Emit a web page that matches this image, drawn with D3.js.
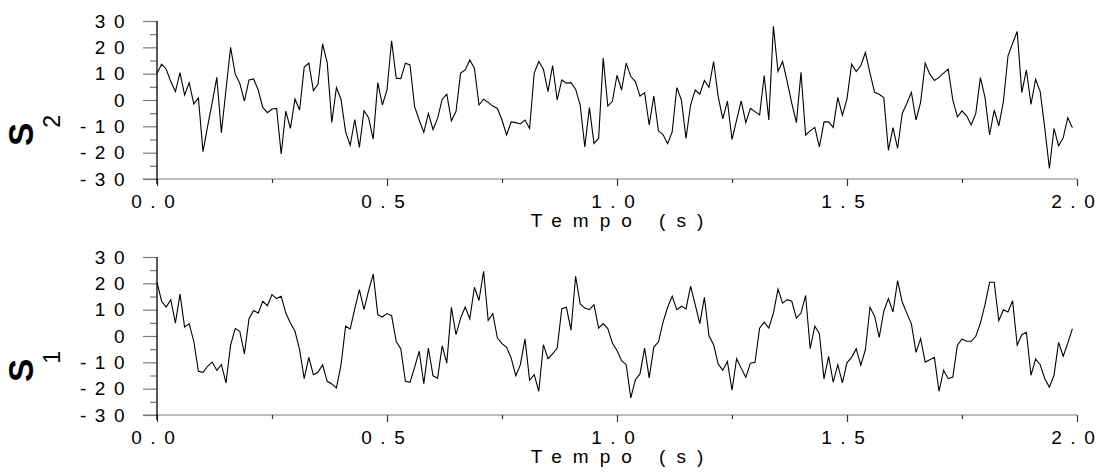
<!DOCTYPE html>
<html><head><meta charset="utf-8">
<script src="https://cdn.jsdelivr.net/npm/d3@7"></script>
<style>
body{margin:0;background:#fff}
svg{display:block}
text{font-family:"Liberation Sans",Arial,Helvetica,sans-serif;fill:#000}
</style>
</head><body>
<svg id="chart" width="1099" height="475"></svg>
<script>
// ---- data ----
const s2Values = [
 10.1,13.6,11.7,7.0,3.2,10.4,1.9,6.6,-1.5,0.8,
 -19.6,-10.0,-1.0,8.6,-12.4,4.0,20.0,9.9,6.3,-0.4,
 7.6,8.0,3.8,-2.8,-4.8,-3.4,-3.2,-20.5,-4.2,-10.8,
 0.4,-3.8,12.5,14.0,3.6,6.0,21.3,14.2,-8.5,4.7,
 0.3,-12.1,-17.2,-7.4,-18.0,-4.1,-6.7,-14.9,6.6,-1.9,
 3.8,22.5,8.3,8.1,14.0,13.3,-2.5,-7.6,-12.3,-5.1,
 -11.2,-7.0,0.3,2.2,-7.9,-4.4,10.2,11.4,15.2,12.1,
 -1.9,0.3,-0.9,-2.3,-3.2,-7.6,-13.3,-8.3,-8.6,-9.1,
 -7.6,-10.8,10.2,14.6,11.7,3.2,13.1,0.0,7.6,6.4,
 6.6,4.1,-1.9,-17.8,-2.9,-16.5,-14.6,15.9,-2.3,-0.5,
 9.4,3.8,14.0,8.9,7.0,1.5,2.8,-9.5,1.5,-11.7,
 -13.1,-16.6,-12.1,4.7,0.0,-14.6,-1.9,3.8,2.2,7.4,
 4.8,14.6,1.3,-7.2,-0.4,-15.0,-7.6,-0.3,-8.6,-3.2,
 -4.4,-5.7,9.3,-7.6,28.0,10.8,14.6,7.0,-1.3,-8.6,
 10.5,-13.3,-11.7,-10.4,-17.8,-8.3,-8.3,-10.4,1.0,-5.8,
 0.4,13.6,10.8,13.0,18.0,10.2,2.9,2.2,0.9,-19.1,
 -10.5,-18.4,-5.1,-1.3,2.9,-7.6,-0.9,14.0,9.8,7.4,
 8.6,10.2,11.7,0.0,-6.4,-4.1,-6.0,-9.5,-5.1,8.5,
 1.0,-13.3,-3.8,-9.8,-0.6,16.8,21.5,26.0,2.8,11.4,
 -1.7,7.9,3.2,-10.8,-26.0,-10.8,-17.4,-14.4,-6.7,-10.5
];
const s1Values = [
 20.5,13.2,11.0,13.8,4.9,15.9,3.4,4.6,-2.0,-13.4,
 -13.8,-11.5,-9.9,-13.0,-10.9,-17.8,-3.5,2.8,1.8,-6.8,
 6.6,9.7,8.7,13.2,11.5,15.7,14.2,15.1,8.7,4.9,
 1.8,-5.2,-16.2,-8.1,-14.7,-13.8,-10.9,-17.2,-18.2,-19.7,
 -11.1,3.7,2.7,10.4,17.6,10.0,17.2,23.5,8.1,7.2,
 8.5,7.7,-2.0,-4.9,-17.2,-17.6,-11.9,-5.8,-18.1,-4.6,
 -15.1,-16.0,-3.7,-10.3,10.9,0.5,6.8,11.0,6.5,18.5,
 13.5,24.6,5.9,8.5,-0.8,-2.9,-4.3,-8.4,-15.1,-10.9,
 -1.1,-16.8,-14.7,-21.0,-3.3,-8.6,-6.8,-4.6,10.4,10.9,
 2.2,22.7,12.2,10.6,10.0,11.9,3.0,4.7,2.8,-2.7,
 -5.5,-9.4,-10.9,-23.5,-16.6,-14.4,-4.6,-15.9,-4.2,-2.3,
 5.2,10.9,15.1,10.0,11.3,10.3,18.9,11.9,4.7,14.7,
 0.1,-3.3,-10.6,-13.0,-9.7,-20.6,-8.6,-12.2,-15.7,-10.3,
 -10.0,3.0,5.3,3.0,8.7,17.8,12.5,13.8,13.2,6.8,
 8.7,15.4,-4.8,3.7,0.9,-16.3,-7.7,-17.5,-10.9,-17.8,
 -10.1,-8.1,-4.8,-11.1,-5.2,10.9,7.5,-0.5,9.4,14.2,
 9.1,21.0,12.9,8.7,4.6,-6.2,-1.0,-9.9,-9.0,-8.1,
 -21.0,-13.0,-16.2,-15.6,-3.5,-1.1,-2.0,-2.0,-0.1,4.9,
 11.9,20.4,20.4,5.8,10.0,9.1,13.4,-3.5,0.5,1.4,
 -14.9,-8.7,-10.9,-16.2,-19.4,-14.9,-2.4,-7.7,-2.7,2.8
];
const sampleStep = 0.01;            // seconds between samples
const xTickValues = [0, 0.5, 1, 1.5, 2];
const xMinorTickValues = [0.25, 0.75, 1.25, 1.75];
const yTickValues = [-30, -20, -10, 0, 10, 20, 30];
const yMinorTickValues = [-25, -15, -5, 5, 15, 25];
const xTitle = "Tempo (s)";
const panelNames = ["S", "S"];
const panelSubs = ["2", "1"];

// ---- layout ----
const svg = d3.select("#chart");
const xLeft = 157, xRight = 1077;
const panelLayout = [
  {top: 21, bottom: 179, values: s2Values, name: panelNames[0], sub: panelSubs[0]},
  {top: 257, bottom: 415, values: s1Values, name: panelNames[1], sub: panelSubs[1]}
];
const x = d3.scaleLinear().domain([0, 2]).range([xLeft, xRight]);
const tickGray = "#7a7a7a";
const LS = "8.5px";

// spaced text without trailing spacing after the last glyph
function spaced(sel, ls) {
  sel.each(function() {
    const t = d3.select(this);
    const s = t.text();
    t.text(null);
    t.append("tspan").style("letter-spacing", ls).text(s.slice(0, -1));
    t.append("tspan").style("letter-spacing", "0px").text(s.slice(-1));
  });
}

panelLayout.forEach(p => {
  const y = d3.scaleLinear().domain([-30, 30]).range([p.bottom, p.top]);
  const g = svg.append("g");

  // x axis line (gray) extended left like the -30 tick
  g.append("line").attr("x1", xLeft - 14).attr("x2", xRight)
    .attr("y1", y(-30)).attr("y2", y(-30))
    .attr("stroke", tickGray).attr("stroke-width", 1.2);

  // y minor ticks
  const yMinor = g.append("g").attr("transform", `translate(${xLeft},0)`)
    .call(d3.axisLeft(y).tickValues(yMinorTickValues).tickSize(7).tickFormat(""));
  yMinor.select(".domain").remove();
  yMinor.selectAll("line").attr("stroke", tickGray).attr("stroke-width", 1.2);

  // y major ticks with labels
  const yAx = g.append("g").attr("transform", `translate(${xLeft},0)`)
    .call(d3.axisLeft(y).tickValues(yTickValues).tickSize(14).tickPadding(10)
      .tickFormat(d => String(d)));
  yAx.select(".domain").remove();
  yAx.selectAll("line").attr("stroke", tickGray).attr("stroke-width", 1.2);
  yAx.selectAll("text").attr("font-size", 19).attr("fill", "#000")
    .style("letter-spacing", LS).attr("font-family", null);

  // x ticks (down)
  const xMinor = g.append("g").attr("transform", `translate(0,${y(-30)})`)
    .call(d3.axisBottom(x).tickValues(xMinorTickValues).tickSize(4).tickFormat(""));
  xMinor.select(".domain").remove();
  xMinor.selectAll("line").attr("stroke", "#333").attr("stroke-width", 1.2);

  const xAx = g.append("g").attr("transform", `translate(0,${y(-30)})`)
    .call(d3.axisBottom(x).tickValues(xTickValues).tickSize(7)
      .tickFormat(d3.format(".1f")));
  xAx.select(".domain").remove();
  xAx.selectAll("line").attr("stroke", "#333").attr("stroke-width", 1.2);
  xAx.selectAll("text").attr("font-size", 19).attr("fill", "#000")
    .attr("y", 28.5).attr("dy", 0).attr("x", -4.5).attr("font-family", null)
    .call(spaced, LS);

  // y axis vertical line (black)
  g.append("line").attr("x1", xLeft).attr("x2", xLeft)
    .attr("y1", y(30)).attr("y2", y(-30) + 5)
    .attr("stroke", "#000").attr("stroke-width", 1.3);

  // x title
  g.append("text").attr("x", (xLeft + xRight) / 2).attr("y", y(-30) + 48)
    .attr("text-anchor", "middle").attr("font-size", 19)
    .text(xTitle).call(spaced, "11px");

  // y title: S with subscript, rotated
  const yt = g.append("text")
    .attr("transform", `translate(33,${y(0) + 46}) rotate(-90)`);
  yt.append("tspan").attr("font-size", 35).attr("font-weight", "bold").text(p.name);
  yt.append("tspan").attr("font-size", 23).attr("dx", -5).attr("dy", 27).text(p.sub);

  // data line
  const line = d3.line()
    .x((d, i) => x(i * sampleStep))
    .y(d => y(d));
  g.append("path").datum(p.values)
    .attr("fill", "none").attr("stroke", "#000").attr("stroke-width", 1.1)
    .attr("stroke-linejoin", "miter").attr("d", line);
});
</script>
</body></html>
